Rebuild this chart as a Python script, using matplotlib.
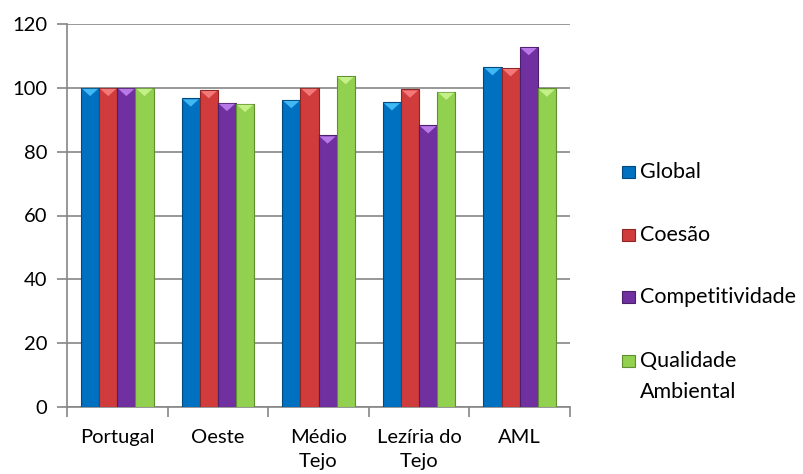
import matplotlib.pyplot as plt
from matplotlib.patches import Rectangle
import numpy as np

plt.rcParams['font.family'] = ['Lato', 'DejaVu Sans']

regioes = ['Portugal', 'Oeste', 'Médio\nTejo', 'Lezíria do\nTejo', 'AML']
series = ['Global', 'Coesão', 'Competitividade', 'Qualidade\nAmbiental']
global_v = [100, 96.7, 96.2, 95.5, 106.5]
coesao = [100, 99.3, 100, 99.5, 106.2]
competitividade = [100, 95.3, 85.1, 88.3, 112.8]
qualidade = [100, 95.0, 103.7, 98.8, 99.8]
cores = ['#0070c0', '#d03c3c', '#7030a0', '#92d050']
bordas = ['#004a80', '#8e2626', '#4a1f6b', '#5f8f30']
topos = ['#40b8f4', '#f47878', '#b878e8', '#c4f088']

valores = [global_v, coesao, competitividade, qualidade]

fig = plt.figure(figsize=(8.04, 4.74), dpi=100)
ax = fig.add_axes([67/804, 67/474, 503/804, 383/474])

xpos = np.arange(len(regioes))
w = 0.18
for i, (vals, c, b, t) in enumerate(zip(valores, cores, bordas, topos)):
    bars = ax.bar(xpos + (i - 1.5) * w, vals, width=w, color=c, edgecolor=b,
                  linewidth=0.8, zorder=3)
    # bevel on top of each bar
    for r in bars:
        x0 = r.get_x()
        x1 = x0 + r.get_width()
        top = r.get_height()
        ax.fill([x0 + 0.01, x1 - 0.01, (x0 + x1) / 2], [top - 0.3, top - 0.3, top - 2.6],
                color=t, zorder=4, lw=0)

ax.set_xlim(-0.5, len(regioes) - 0.5)
ax.set_ylim(0, 120)
ax.set_yticks(range(0, 121, 20))
ax.yaxis.grid(True, color='#868686', linewidth=1.2, zorder=0)
ax.set_xticks(xpos)
ax.set_xticklabels(regioes, fontsize=14.5, linespacing=1.45, va='top')
ax.set_xticks(np.arange(-0.5, len(regioes), 1), minor=True)
ax.tick_params(axis='x', which='major', length=0, pad=16)
ax.tick_params(axis='x', which='minor', length=7, color='#868686', width=1.2)
ax.tick_params(axis='y', length=7, color='#868686', width=1.2, labelsize=14.5, pad=7)
for s in ['top', 'right']:
    ax.spines[s].set_visible(False)
for s in ['left', 'bottom']:
    ax.spines[s].set_color('#868686')
    ax.spines[s].set_linewidth(1.2)

# legend drawn by hand so the marker sits on the first line of the label
leg_y = [172, 235, 297, 361]
for lab, c, b, y in zip(series, cores, bordas, leg_y):
    fig.patches.append(Rectangle((622/804, 1 - (y + 6)/474), 13/804, 12/474,
                                 transform=fig.transFigure, facecolor=c,
                                 edgecolor=b, linewidth=0.8))
    for k, linha in enumerate(lab.split('\n')):
        fig.text(640/804, 1 - (y + 31 * k)/474, linha, fontsize=15.5,
                 va='center', ha='left')

fig.savefig('out.png', dpi=100)
